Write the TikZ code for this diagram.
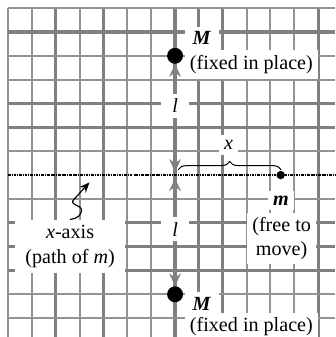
\documentclass[tikz,border=0pt]{standalone}
\usepackage{fontspec}
\setmainfont{Liberation Serif}
\usetikzlibrary{arrows.meta,decorations.pathreplacing}

\begin{document}
\begin{tikzpicture}[x=0.5cm, y=0.5cm, font=\large]
        % Stijlen definiëren
        \tikzstyle{thinline} = [draw=gray!85, line width=1.2pt]
        \tikzstyle{thickline} = [draw=gray, line width=1.9pt]
        \tikzstyle{xaxisline} = [black, line width=0.8pt, dash pattern=on 1.6pt off 0.6pt on 0.5pt off 0.6pt]
        \tikzstyle{labelbox} = [fill=white, inner sep=3pt, text centered]
        \tikzstyle{mass} = [circle, fill=black, inner sep=0pt, minimum size=9.5pt]
        \tikzstyle{smallmass} = [circle, fill=black, inner sep=0pt, minimum size=5pt]
        \tikzstyle{dimline} = [draw=gray, line width=1.9pt, {Stealth[length=7.5pt,width=7pt,inset=2.5pt]}-{Stealth[length=7.5pt,width=7pt,inset=2.5pt]}]
        \tikzstyle{bracearrow} = [draw=black, line width=0.6pt, decorate, decoration={brace, amplitude=5pt}]
        \tikzstyle{squiggle} = [draw=black, line width=0.7pt, -{Stealth[length=6pt,width=5pt]}]

        \useasboundingbox (-7.34,-6.79) rectangle (6.71,7.34);

        % Raster
        \foreach \k in {-7,-6,-4,-2,-1,3,4,5} \draw [thinline] (\k,7) -- (\k,-6.79);
        \foreach \k in {-5,-3,0,1,2,6} \draw [thickline] (\k,7) -- (\k,-6.79);
        \foreach \k in {7,5,4,1,-1,-5,-6} \draw [thinline] (-7,\k) -- (6.71,\k);
        \foreach \k in {6,3,2,-2,-3,-4} \draw [thickline] (-7,\k) -- (6.71,\k);

        % x-as
        \draw [xaxisline] (-7,0) -- (6.71,0);

        % Knopen plaatsen
        \coordinate (o) at (0,0);
        \node (Mtop) [mass] at (0,5) {};
        \node (Mbot) [mass] at (0,-5) {};
        \node (m) [smallmass] at (4.43,0) {};
        \coordinate (bl) at (0.13,0.22);
        \coordinate (br) at (4.45,0.22);
        \coordinate (sqtip) at (-3.59,-0.31);

        % Pijlen trekken
        \draw [dimline] ([yshift=2pt]o) -- (Mtop);
        \draw [dimline] ([yshift=-2pt]o) -- (Mbot);
        \draw [bracearrow] (bl) -- (br);

        % Labels
        \node (Mtoplabel) [labelbox, minimum width=0.72cm] at (1.12,5.73) {\textbf{\textit{M}}};
        \node (fixtop) [labelbox] at (3.2,4.63) {(fixed in place)};
        \node (Mbotlabel) [labelbox, minimum width=0.72cm] at (1.12,-5.40) {\textbf{\textit{M}}};
        \node (fixbot) [labelbox] at (3.2,-6.37) {(fixed in place)};
        \node (ltop) [labelbox, minimum width=0.59cm, minimum height=0.47cm] at (0,2.9) {\textit{l}};
        \node (lbot) [labelbox, minimum width=0.59cm, minimum height=0.5cm] at (0,-2.27) {\textit{l}};
        \node (xlabel) [labelbox, minimum width=0.4cm] at (2.24,1.26) {\textit{x}};
        \node (mlabel) [labelbox] at (4.44,-1.06) {\textbf{\textit{m}}};
        \node (free) [labelbox, align=center, minimum width=1.45cm] at (4.47,-2.66) {(free to\\move)};
        \node (xaxislabel) [labelbox, align=center, minimum width=2.3cm, minimum height=1.0cm] at (-4.4,-2.98) {\textit{x}-axis\\[1pt](path of \textit{m})};

        % Golvende pijl
        \draw [squiggle] (xaxislabel.north) .. controls (-4.1,-1.85) and (-3.92,-1.65) .. (-3.92,-1.47)
            .. controls (-3.92,-1.25) and (-4.5,-1.25) .. (-4.22,-1.0) -- (sqtip);

\end{tikzpicture}
\end{document}
